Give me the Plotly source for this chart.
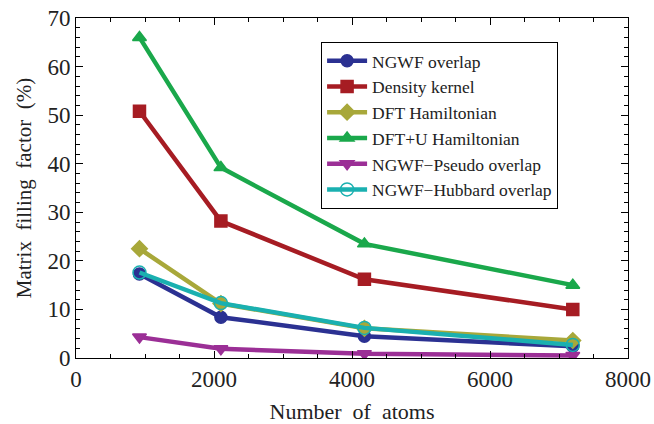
import plotly.graph_objects as go

atoms = [920, 2100, 4180, 7200]
ngwf_overlap = [17.3, 8.4, 4.5, 2.4]
density_kernel = [50.8, 28.2, 16.2, 10.0]
dft_ham = [22.5, 11.2, 6.1, 3.6]
dftu_ham = [66.0, 39.2, 23.5, 15.0]
pseudo_overlap = [4.3, 1.9, 0.9, 0.5]
hubbard_overlap = [17.6, 11.3, 6.2, 2.7]

series = [
    ("NGWF overlap", ngwf_overlap, "#2b3192", "circle", 12),
    ("Density kernel", density_kernel, "#a61c23", "square", 12),
    ("DFT Hamiltonian", dft_ham, "#a8a83a", "diamond", 12),
    ("DFT+U Hamiltonian", dftu_ham, "#1aa84b", "triangle-up", 12),
    ("NGWF\u2212Pseudo overlap", pseudo_overlap, "#9b2f96", "triangle-down", 12),
    ("NGWF\u2212Hubbard overlap", hubbard_overlap, "#1ab0b0", "circle-open", 13),
]

fig = go.Figure()
for name, vals, col, sym, sz in series:
    fig.add_trace(go.Scatter(
        x=atoms, y=vals, name=name, mode="lines+markers",
        line=dict(color=col, width=4.5),
        marker=dict(symbol=sym, size=sz, color=col, line=dict(color=col, width=1.5)),
    ))

font = "Liberation Serif, Times New Roman, serif"
axis_common = dict(
    showgrid=False, zeroline=False, showline=True, linecolor="black", linewidth=1,
    mirror="allticks", ticks="inside", ticklen=7, tickcolor="black",
    tickfont=dict(family=font, size=23, color="#222"), automargin=False,
)
fig.update_xaxes(range=[0, 8000], dtick=2000,
                 minor=dict(dtick=500, ticks="inside", ticklen=4, tickcolor="black"),
                 title=dict(text="Number  of  atoms", font=dict(family=font, size=22, color="#222"), standoff=20),
                 **axis_common)
fig.update_yaxes(range=[0, 70], dtick=10,
                 minor=dict(dtick=2, ticks="inside", ticklen=4, tickcolor="black"),
                 title=dict(text="Matrix  filling  factor  (%)", font=dict(family=font, size=21, color="#222"), standoff=10),
                 **axis_common)

fig.update_layout(
    width=654, height=424,
    margin=dict(l=76, r=26, t=18, b=66),
    plot_bgcolor="white", paper_bgcolor="white",
    legend=dict(x=0.444, y=0.93, xanchor="left", yanchor="top",
                bordercolor="black", borderwidth=1, bgcolor="white",
                font=dict(family=font, size=17.5, color="#222"),
                itemwidth=40, entrywidth=240, entrywidthmode="pixels",
                tracegroupgap=0),
)

fig.write_html("out.html")
